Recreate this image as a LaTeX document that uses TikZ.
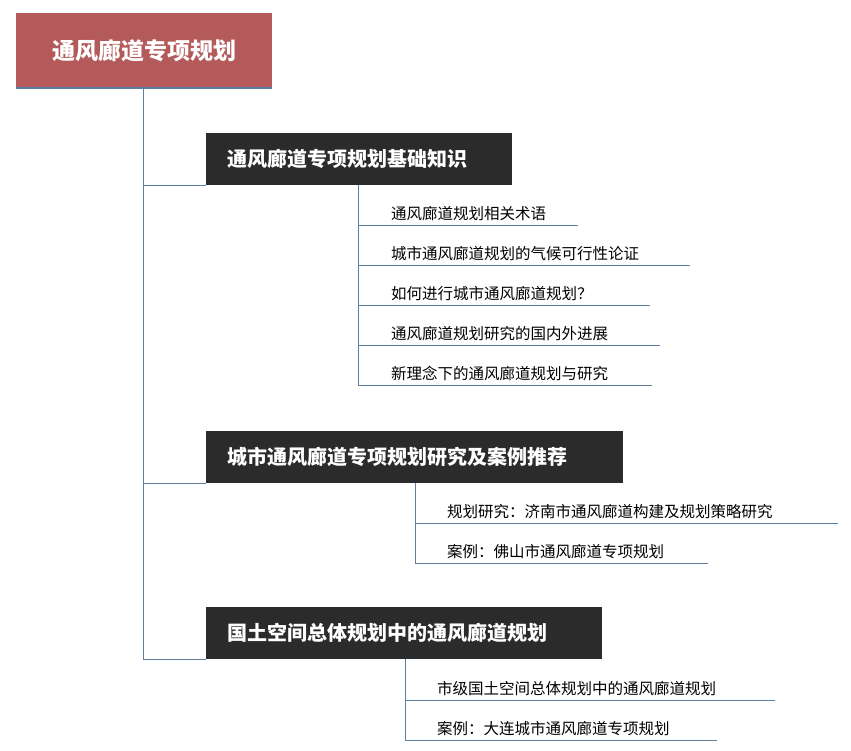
\documentclass[tikz,border=0pt]{standalone}
\usepackage{fontspec}
\setmainfont{Noto Sans CJK SC}
\begin{document}
\begin{tikzpicture}[x=1pt,y=-1pt,
  ln/.style={draw=lnc,line width=0.9pt},
  br/.style={fill=brc,text=white,font=\bfseries\fontsize{20}{24}\selectfont,anchor=north west,inner sep=0pt},
  lf/.style={anchor=south west,font=\fontsize{15.5}{18}\selectfont,inner sep=0pt}]
\definecolor{lnc}{HTML}{5A7FA0}
\definecolor{brc}{HTML}{2B2B2B}
\definecolor{rootc}{HTML}{B55A5A}
\useasboundingbox (0,0) rectangle (851,751);
\fill[rootc] (16,13) rectangle (272,89);
\draw[lnc,line width=2pt] (16,88) -- (272,88);
\node[text=white,font=\bfseries\fontsize{23}{28}\selectfont] (root) at (144,51) {通风廊道专项规划};
\coordinate (v0) at (143,89);
\coordinate (v1) at (143,659);
\draw[ln] (v0) -- (v1);
% branches
\foreach \n/\y/\w/\t in {b1/133/306/通风廊道专项规划基础知识,b2/431/417/城市通风廊道专项规划研究及案例推荐,b3/607/396/国土空间总体规划中的通风廊道规划}{
  \fill[brc] (206,\y) rectangle ++(\w,52);
  \node[text=white,font=\bfseries\fontsize{20}{24}\selectfont,anchor=west] (\n) at (224,\y+26) {\t};
  \draw[ln] (143,\y+52) -- (206,\y+52);
}
% leaves b1
\draw[ln] (358,185) -- (358,385);
\foreach \y/\e/\t in {225/578/通风廊道规划相关术语,265/690/城市通风廊道规划的气候可行性论证,305/650/如何进行城市通风廊道规划？,345/660/通风廊道规划研究的国内外进展,385/652/新理念下的通风廊道规划与研究}{
  \draw[ln] (358,\y) -- (\e,\y);
  \node[lf] at (391,\y-4) {\t};
}
\draw[ln] (415,483) -- (415,563);
\foreach \y/\e/\t in {523/838/规划研究：济南市通风廊道构建及规划策略研究,563/708/案例：佛山市通风廊道专项规划}{
  \draw[ln] (415,\y) -- (\e,\y);
  \node[lf] at (447,\y-4) {\t};
}
\draw[ln] (405,659) -- (405,740);
\foreach \y/\e/\t in {700/775/市级国土空间总体规划中的通风廊道规划,740/717/案例：大连城市通风廊道专项规划}{
  \draw[ln] (405,\y) -- (\e,\y);
  \node[lf] at (437,\y-4) {\t};
}
\end{tikzpicture}
\end{document}
